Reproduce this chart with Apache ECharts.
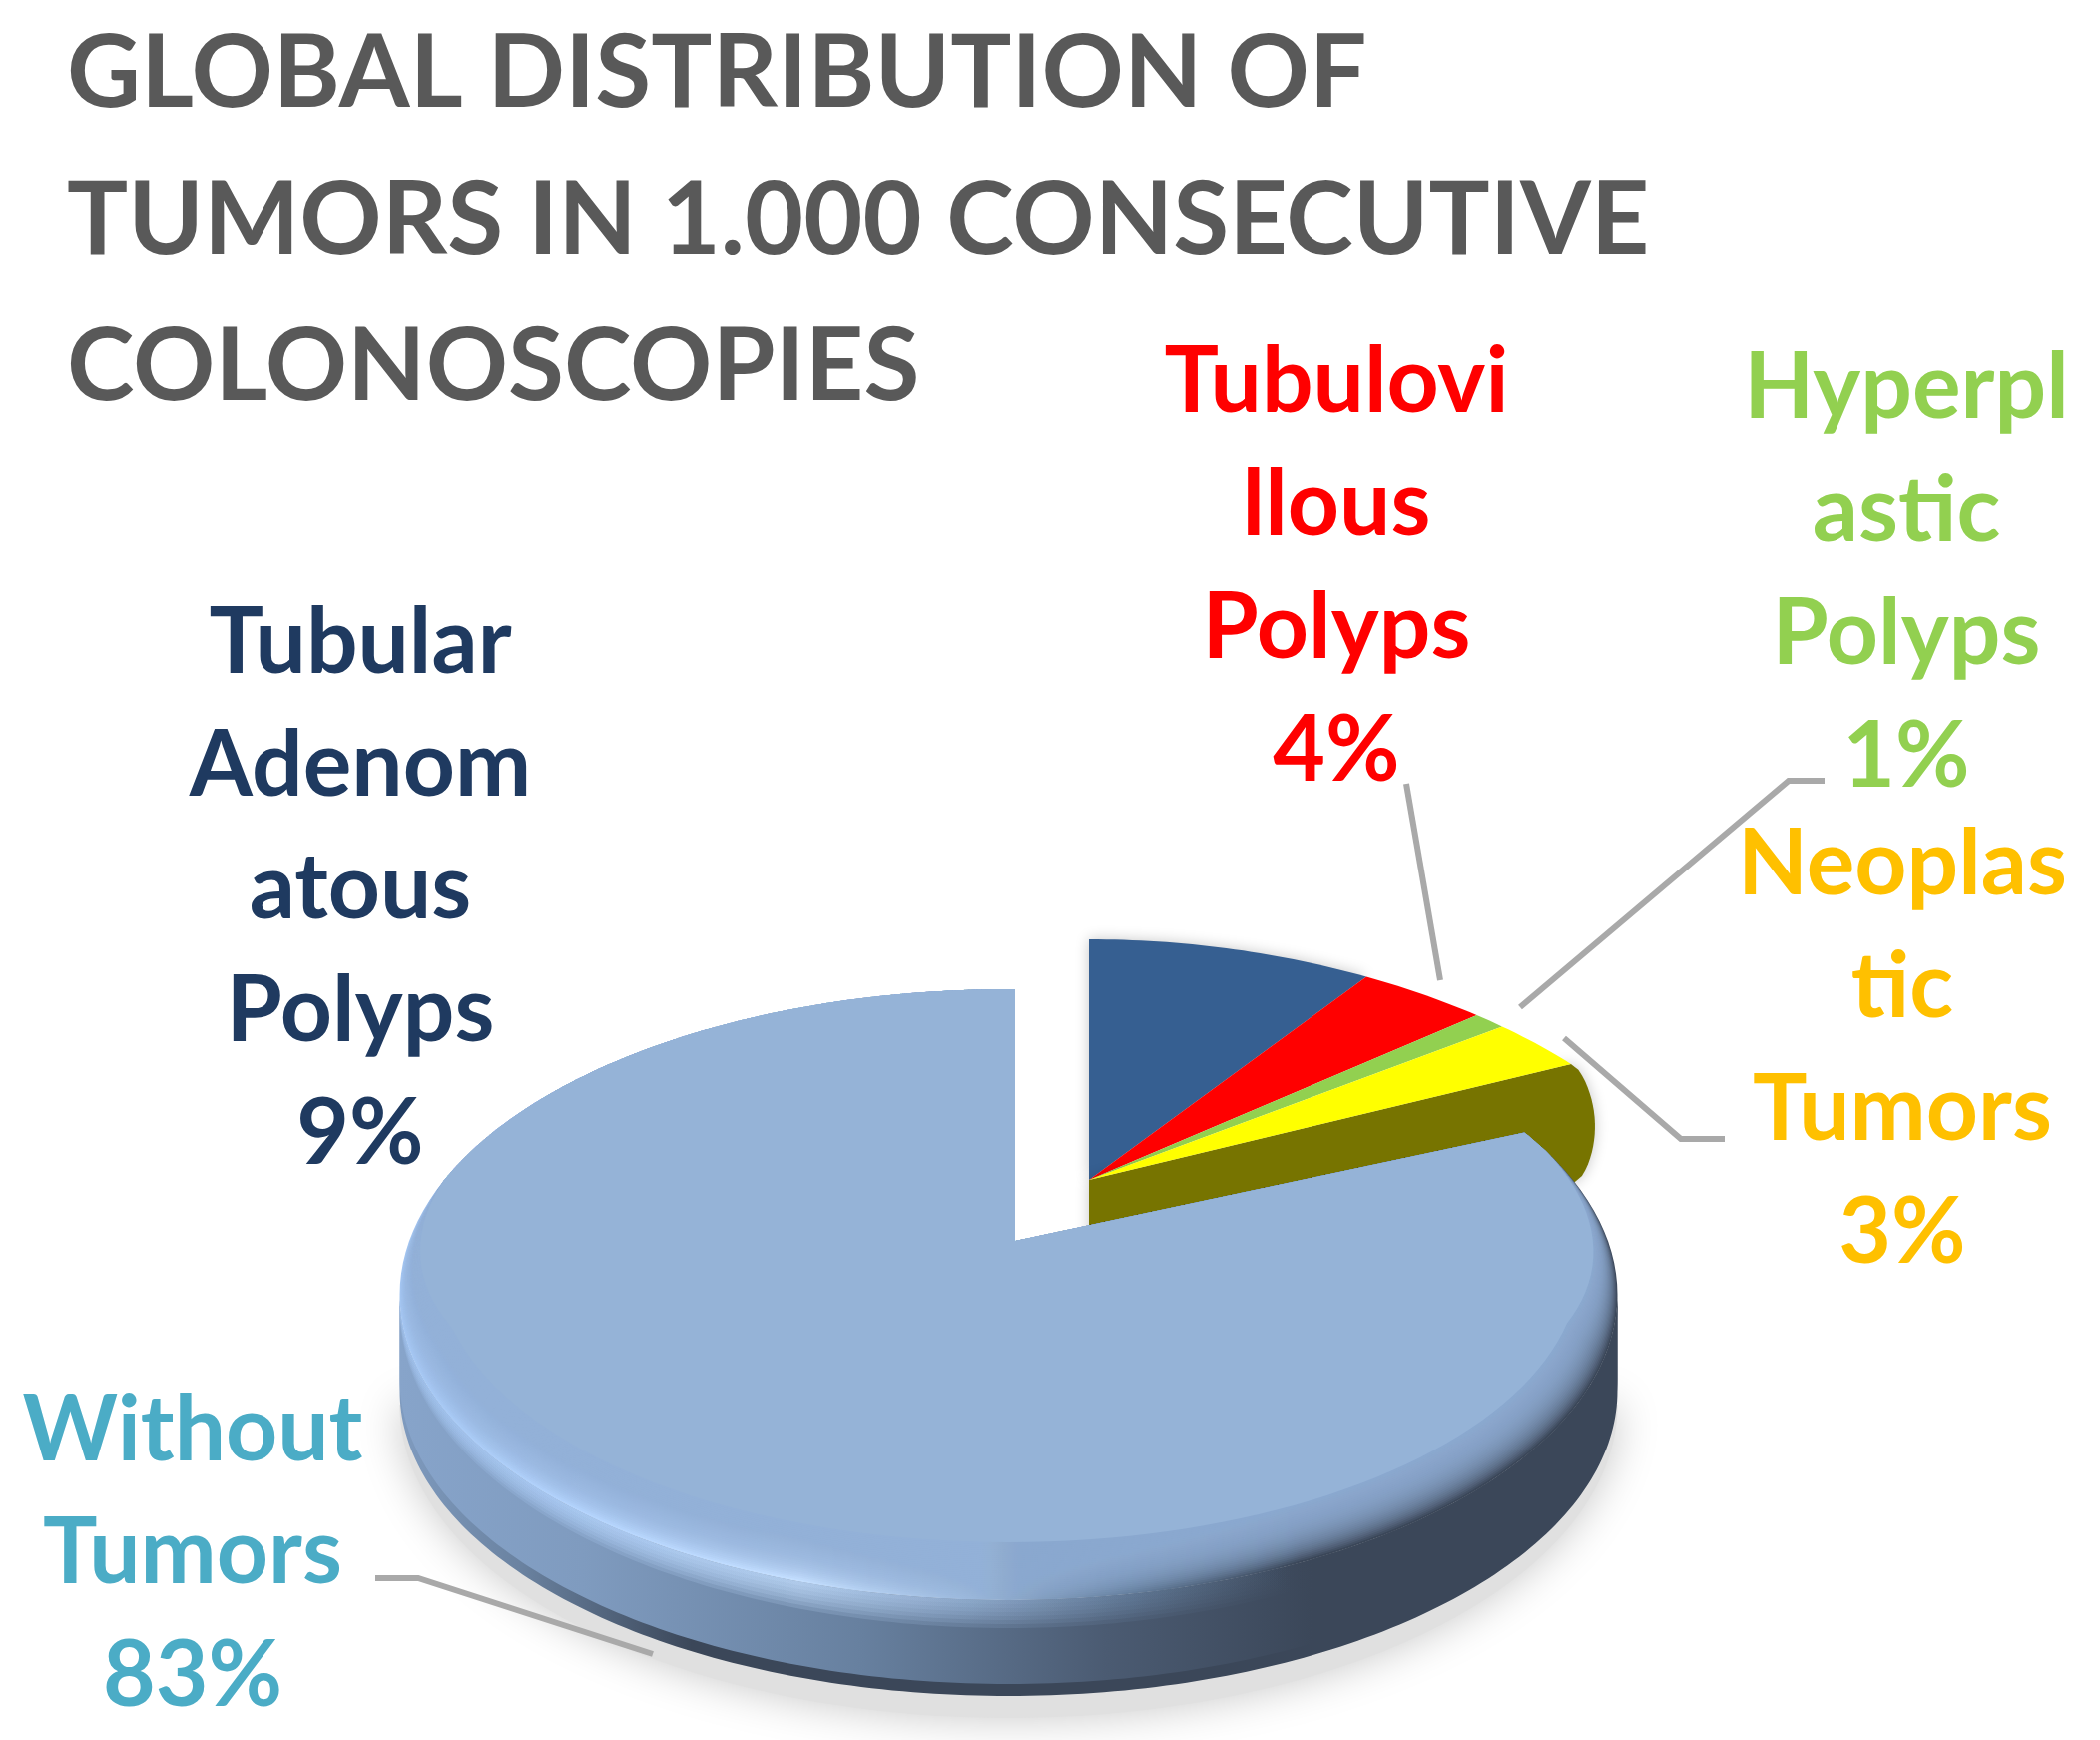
<!DOCTYPE html>
<html>
<head>
<meta charset="utf-8">
<style>
  html, body { margin: 0; padding: 0; background: #fff; }
  #chart { width: 2104px; height: 1743px; }
</style>
<script src="https://cdn.jsdelivr.net/npm/echarts@6/dist/echarts.min.js"></script>
</head>
<body>
<div id="chart"></div>
<script>
const chartTitle = 'GLOBAL DISTRIBUTION OF\nTUMORS IN 1.000 CONSECUTIVE\nCOLONOSCOPIES';
const categories = [
  'Tubular\nAdenom\natous\nPolyps',
  'Tubulovi\nllous\nPolyps',
  'Hyperpl\nastic\nPolyps',
  'Neoplas\ntic\nTumors',
  'Without\nTumors'
];
const seriesValues = [9, 4, 1, 3, 83];

const sliceColors = ['#365f91', '#ff0000', '#92d050', '#ffff00', '#95b3d7'];
const labelColors = ['#1f3a60', '#ff0000', '#92d050', '#ffc000', '#4bacc6'];
const labelCenters = [[361, 891], [1339, 568], [1910, 574], [1906, 1051], [193, 1557]];
const leaderLines = [
  null,
  [[1409, 785], [1443, 982]],
  [[1828, 782], [1792, 782], [1523, 1009]],
  [[1728, 1141], [1684, 1141], [1567, 1040]],
  [[376, 1581], [419, 1581], [654, 1657]]
];

// the cut out slices and the big slice are not the same ellipse, perspective
const cutOut = { ax: 1091, ay: 1182, cx: 1091, cy: 1182, rx: 555, ry: 241, persp: true };
const big = { ax: 1017, ay: 1243, cx: 1010.5, cy: 1297, rx: 610, ry: 306 };
const face = { cx: 1010.5, cy: 1268, rx: 572, ry: 277 };
const wallDepth = 96;
const startShift = -3.3;

const total = seriesValues.reduce((a, b) => a + b, 0);

const arcPoints = (e, from, to) => {
  const pts = [];
  const n = Math.max(2, Math.ceil(Math.abs(to - from)));
  for (let i = 0; i <= n; i++) {
    const t = ((from + ((to - from) * i) / n) * Math.PI) / 180;
    const squeeze = e.persp ? 1.07 - 0.16 * Math.cos(t) : 1;
    pts.push([e.cx + e.rx * squeeze * Math.sin(t), e.cy - e.ry * Math.cos(t)]);
  }
  return pts;
};

const hGradient = (stops) =>
  new echarts.graphic.LinearGradient(0, 0, 1, 0, stops.map((s) => ({ offset: s[0], color: s[1] })));

// outline of the big slice, s = 0 is the outer edge, s = 1 the flat inner face
const topOutline = (start, end, s) => {
  const pts = [[big.ax, big.ay]];
  arcPoints(big, start, 62).forEach((p) => pts.push(p));
  for (let t = 62; t <= 292; t += 2) {
    const k = s * Math.min(1, Math.min((t - 62) / 40, (292 - t) / 35));
    const a = arcPoints(big, t, t + 1)[0];
    const b = arcPoints(face, t, t + 1)[0];
    pts.push([a[0] + (b[0] - a[0]) * k, a[1] + (b[1] - a[1]) * k]);
  }
  arcPoints(big, 292, end).forEach((p) => pts.push(p));
  return pts;
};

const renderSlice = (params, api) => {
  const i = params.dataIndex;
  const before = seriesValues.slice(0, i).reduce((a, b) => a + b, 0);
  const from = (before / total) * 360;
  const to = ((before + api.value(1)) / total) * 360;
  const children = [];

  if (i < seriesValues.length - 1) {
    const pts = arcPoints(cutOut, from, to);
    if (i === 3) {
      // side of the cut, only this one can be seen
      const end = pts[pts.length - 1];
      const side = [[cutOut.ax, cutOut.ay], end];
      for (let k = 1; k <= 20; k++) {
        side.push([end[0] + 22 * Math.pow(Math.sin((Math.PI * k) / 20), 0.6) + k * 0.2, end[1] + (118 * k) / 20]);
      }
      side.push([cutOut.ax, cutOut.ay + 118]);
      children.push({
        type: 'polygon',
        shape: { points: side },
        style: { fill: '#777400', shadowBlur: 14, shadowColor: 'rgba(0,0,0,0.22)' }
      });
    }
    children.push({
      type: 'polygon',
      shape: { points: [[cutOut.ax, cutOut.ay]].concat(pts) },
      style: { fill: sliceColors[i], shadowBlur: i === 0 ? 14 : 0, shadowColor: 'rgba(0,0,0,0.22)' }
    });
  } else {
    const start = from + startShift;
    const end = 360 + (Math.asin((big.ax - big.cx) / big.rx) * 180) / Math.PI;
    const lowered = Object.assign({}, big, { cy: big.cy + wallDepth });
    const loweredIn = Object.assign({}, big, { cy: big.cy + wallDepth - 12 });
    const upper = arcPoints(big, 270, 90);
    const shade = Object.assign({}, big, { cy: big.cy + wallDepth + 14, ry: big.ry + 8 });

    children.push({
      type: 'polygon',
      shape: { points: arcPoints(shade, 90, 270) },
      style: { fill: '#e0e0e0', shadowBlur: 44, shadowColor: '#c8c8c8' }
    });
    children.push({
      type: 'polygon',
      shape: { points: arcPoints(lowered, 90, 270).concat(upper) },
      style: {
        fill: hGradient([
          [0, '#7f9bbf'],
          [0.1, '#6a82a0'],
          [0.24, '#3b4759'],
          [1, '#3b4759']
        ])
      }
    });
    children.push({
      type: 'polygon',
      shape: { points: arcPoints(loweredIn, 90, 270).concat(upper) },
      style: {
        fill: hGradient([
          [0, '#87a4ca'],
          [0.15, '#7f9bbf'],
          [0.38, '#67809f'],
          [0.58, '#4b5b72'],
          [0.75, '#3b4759'],
          [1, '#3b4759']
        ])
      }
    });
    const bevelFill = hGradient([
      [0, '#a4c6f2'],
      [0.15, '#b4d4fd'],
      [0.33, '#c4dfff'],
      [0.47, '#9ab7db'],
      [0.6, '#66809f'],
      [0.74, '#3b4759'],
      [1, '#3b4759']
    ]);
    // soft lower edge of the bevel, the top of the ellipse stays where it is
    [28, 24, 20, 16, 12, 8, 4].forEach((d) => {
      const grown = Object.assign({}, big, { cy: big.cy + d / 2, ry: big.ry + d / 2 });
      children.push({
        type: 'polygon',
        shape: { points: arcPoints(grown, 90, 270).concat(upper) },
        style: { fill: bevelFill, opacity: 0.18 }
      });
    });
    children.push({
      type: 'polygon',
      shape: { points: topOutline(start, end, 0) },
      style: { fill: bevelFill }
    });
    // stacked see through layers fade the bevel into the flat face
    for (let s = 1; s <= 30; s++) {
      children.push({
        type: 'polygon',
        shape: { points: topOutline(start, end, s / 30) },
        style: { fill: sliceColors[i], opacity: s === 30 ? 1 : 0.1 }
      });
    }
  }

  if (leaderLines[i]) {
    children.push({
      type: 'polyline',
      shape: { points: leaderLines[i] },
      style: { stroke: '#a9a9a9', lineWidth: 6, fill: 'none' }
    });
  }
  children.push({
    type: 'text',
    style: {
      text: api.value(0) + '\n' + Math.round((api.value(1) / total) * 100) + '%',
      x: labelCenters[i][0],
      y: labelCenters[i][1],
      align: 'center',
      verticalAlign: 'middle',
      fill: labelColors[i],
      font: 'bold 91px Lato',
      lineHeight: 123
    }
  });
  return { type: 'group', children };
};

const chart = echarts.init(document.getElementById('chart'));
chart.setOption({
  backgroundColor: '#ffffff',
  animation: false,
  title: {
    text: chartTitle,
    left: 62,
    top: -4,
    textStyle: {
      fontFamily: 'Lato',
      fontWeight: 'bold',
      fontSize: 102,
      lineHeight: 147,
      color: '#595959'
    }
  },
  series: [
    {
      type: 'custom',
      coordinateSystem: 'none',
      renderItem: renderSlice,
      encode: { itemName: 0, value: 1 },
      data: categories.map((name, i) => [name, seriesValues[i]])
    }
  ]
});
</script>
</body>
</html>
